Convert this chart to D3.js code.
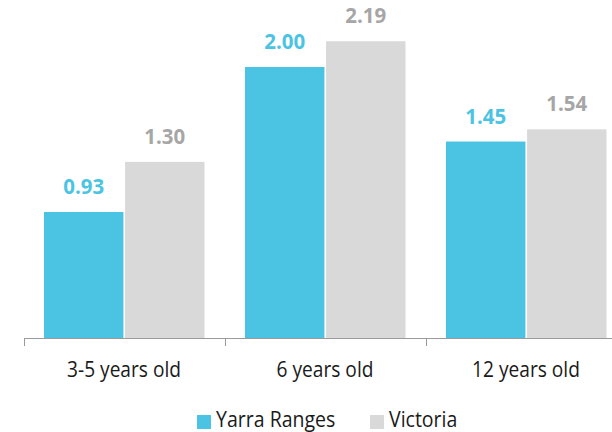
<!DOCTYPE html>
<html><head><meta charset="utf-8">
<script src="https://cdn.jsdelivr.net/npm/d3@7"></script>
<style>body{margin:0;background:#fff;} svg{display:block;}</style>
</head><body><svg id="c" width="612" height="432"></svg>
<script>
const categories = ["3-5 years old", "6 years old", "12 years old"];
const seriesNames = ["Yarra Ranges", "Victoria"];
const yarraRanges = [0.93, 2.00, 1.45];
const victoria = [1.30, 2.19, 1.54];
const colors = ["#4BC4E3", "#D9D9D9"];
const labelColors = ["#4BC4E3", "#A6A6A6"];

const svg = d3.select("#c");
const font = "'Open Sans', sans-serif";
const x = d3.scaleBand().domain(categories).range([23.5, 626.5]).paddingInner(0).paddingOuter(0);
const x1 = d3.scaleBand().domain(seriesNames).range([20.5, x.bandwidth() - 20]).paddingInner(0.02);
const y = d3.scaleLinear().domain([0, 2.5]).range([338, -0.75]);

const data = categories.map((c, i) => ({c, vals: [yarraRanges[i], victoria[i]]}));
const g = svg.selectAll("g.cat").data(data).join("g").attr("transform", d => `translate(${x(d.c)},0)`);
seriesNames.forEach((s, si) => {
  g.append("rect").attr("x", x1(s)).attr("width", x1.bandwidth())
    .attr("y", d => y(d.vals[si])).attr("height", d => y(0) - y(d.vals[si])).attr("fill", colors[si]);
  g.append("text")
    .attr("transform", d => `translate(${x1(s) + x1.bandwidth()/2},${y(d.vals[si]) - 18}) scale(0.93,1)`)
    .attr("text-anchor", "middle").attr("font-family", font).attr("font-weight", "bold")
    .attr("font-size", 22).attr("fill", labelColors[si]).text(d => d.vals[si].toFixed(2));
});

const ax = svg.append("g").attr("transform", "translate(0,338)")
  .call(d3.axisBottom(x).tickSize(0));
ax.select(".domain").attr("stroke", "#9A9A9A");
ax.selectAll(".tick text").attr("y", 0).attr("dy", null)
  .attr("transform", "translate(0,39) scale(0.87,1)")
  .attr("font-family", font).attr("font-size", 22).attr("fill", "#1a1a1a");
const bounds = [x.range()[0]].concat(categories.map(c => x(c) + x.bandwidth()));
ax.selectAll("line.b").data(bounds).join("line").attr("class","b")
  .attr("x1", d => Math.round(d) + 0.5).attr("x2", d => Math.round(d) + 0.5).attr("y1", 0).attr("y2", 8).attr("stroke", "#9A9A9A");

const leg = svg.append("g");
const legX = [197, 370];
seriesNames.forEach((s, si) => {
  leg.append("rect").attr("x", legX[si]).attr("y", 415).attr("width", 14).attr("height", 14).attr("fill", colors[si]);
  leg.append("text").attr("transform", `translate(${legX[si] + 19},427) scale(0.93,1)`)
    .attr("font-family", font).attr("font-size", 21)
    .attr("fill", "#1a1a1a").text(s);
});
</script></body></html>
